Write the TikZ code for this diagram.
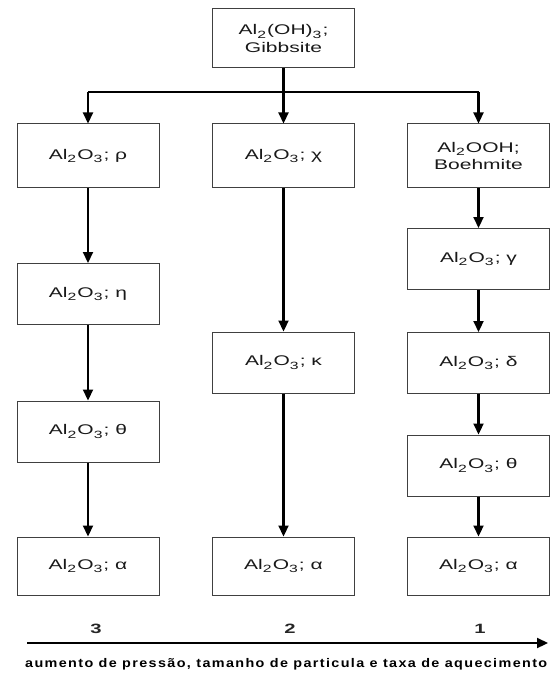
\documentclass[tikz,border=0pt]{standalone}
\usepackage{fontspec}
\setmainfont[FakeStretch=1.5]{Liberation Sans}
\newfontfamily\captfont[FakeStretch=1.15,LetterSpace=11]{Liberation Sans}
\usetikzlibrary{arrows.meta}
\newcommand\lo[1]{\raisebox{-0.45ex}{\scalebox{0.75}{#1}}\kern0.08em}
\begin{document}
\begin{tikzpicture}[x=1pt,y=-1pt,
  box/.style={draw=black!75, line width=1pt, minimum width=142pt, minimum height=61pt,
    inner sep=0pt, align=center, font=\fontsize{14}{17.5}\selectfont, text=black!90},
  arr/.style={line width=2.2pt, -{Triangle[length=11pt,width=10pt]}},
  ln/.style={line width=2.2pt},
  num/.style={font=\fontsize{13.5}{15}\selectfont\bfseries, text=black!85, inner sep=0pt}]
\useasboundingbox (0,0) rectangle (558,676);
\node[box, minimum height=59pt] (gib) at (283.5,38.5) {Al\lo{2}(OH)\lo{3};\\Gibbsite};
% left column
\node[box, minimum height=64pt] (rho) at (88,156) {Al\lo{2}O\lo{3}; ρ};
\node[box] (eta) at (88,294) {Al\lo{2}O\lo{3}; η};
\node[box] (thL) at (88,431.5) {Al\lo{2}O\lo{3}; θ};
\node[box, minimum height=58pt] (alL) at (88,566) {Al\lo{2}O\lo{3}; α};
% middle column
\node[box, minimum height=64pt] (chi) at (283.5,156) {Al\lo{2}O\lo{3}; χ};
\node[box] (kap) at (283.5,362.5) {Al\lo{2}O\lo{3}; κ};
\node[box, minimum height=58pt] (alM) at (283.5,566) {Al\lo{2}O\lo{3}; α};
% right column
\node[box, minimum height=64pt] (boe) at (478.5,156) {Al\lo{2}OOH;\\Boehmite};
\node[box] (gam) at (478.5,259) {Al\lo{2}O\lo{3}; γ};
\node[box] (del) at (478.5,363) {Al\lo{2}O\lo{3}; δ};
\node[box] (thR) at (478.5,465.5) {Al\lo{2}O\lo{3}; θ};
\node[box, minimum height=58pt] (alR) at (478.5,566) {Al\lo{2}O\lo{3}; α};
% connectors
\coordinate (bl) at (88,92);
\coordinate (br) at (478.5,92);
\draw[ln] (bl) -- (br);
\draw[arr] (bl) -- (rho);
\draw[arr] (br) -- (boe);
\draw[arr] (gib) -- (chi);
\draw[arr] (rho) -- (eta);
\draw[arr] (eta) -- (thL);
\draw[arr] (thL) -- (alL);
\draw[arr] (chi) -- (kap);
\draw[arr] (kap) -- (alM);
\draw[arr] (boe) -- (gam);
\draw[arr] (gam) -- (del);
\draw[arr] (del) -- (thR);
\draw[arr] (thR) -- (alR);
% bottom axis
\node[num] (n3) at (96,629) {3};
\node[num] (n2) at (290,629) {2};
\node[num] (n1) at (480,629) {1};
\coordinate (a0) at (27,643);
\coordinate (a1) at (548,643);
\draw[arr] (a0) -- (a1);
\node[anchor=west, inner sep=0pt, text=black, font=\captfont\fontsize{12.5}{14}\selectfont\bfseries] (cap) at (25,664) {aumento de pressão, tamanho de particula e taxa de aquecimento};
\end{tikzpicture}
\end{document}
